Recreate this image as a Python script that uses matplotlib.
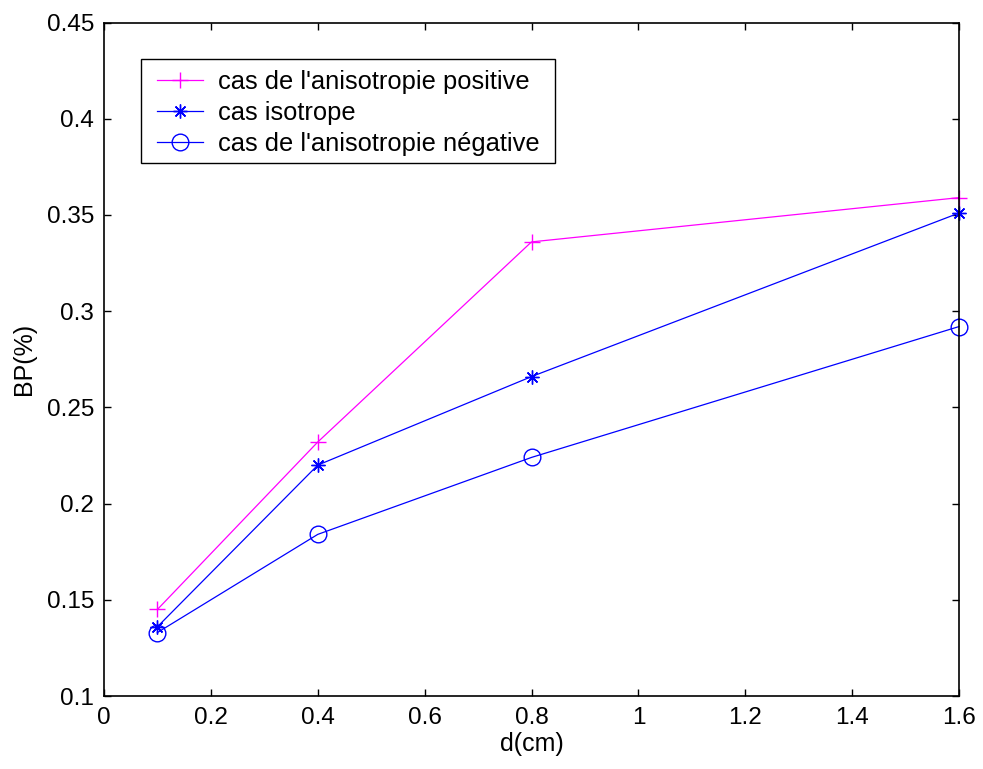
import matplotlib
matplotlib.use("Agg")
import matplotlib.pyplot as plt
from matplotlib.patches import Rectangle

d_cm = [0.1, 0.4, 0.8, 1.6]
bp_positive = [0.145, 0.232, 0.336, 0.359]
bp_isotrope = [0.136, 0.220, 0.266, 0.351]
bp_negative = [0.133, 0.184, 0.224, 0.292]
labels = ["cas de l'anisotropie positive", "cas isotrope", "cas de l'anisotropie négative"]
xticks = [0, 0.2, 0.4, 0.6, 0.8, 1, 1.2, 1.4, 1.6]
yticks = [0.1, 0.15, 0.2, 0.25, 0.3, 0.35, 0.4, 0.45]

plt.rcParams['font.family'] = ['Liberation Sans', 'DejaVu Sans']
fig = plt.figure(figsize=(9.83, 7.69), dpi=100)
ax = fig.add_axes([0.1058, 0.0949, 0.8698, 0.8758])

ax.plot(d_cm, bp_positive, color='#FF00FF', marker='+', markersize=12, markeredgewidth=1,
        linewidth=0.9, label=labels[0], clip_on=False)
ax.plot(d_cm, bp_isotrope, color='#0000FF', marker=(8, 2, 0), markersize=10, markeredgewidth=1,
        linewidth=0.9, label=labels[1], clip_on=False)
ax.plot(d_cm, bp_negative, color='#0000FF', marker='o', markersize=12, markerfacecolor='none',
        markeredgewidth=1, linewidth=0.9, label=labels[2], clip_on=False)

ax.set_xlim(0, 1.6)
ax.set_ylim(0.1, 0.45)
ax.set_xticks(xticks)
ax.set_xticklabels([("%g" % v) for v in xticks])
ax.set_yticks(yticks)
ax.set_yticklabels([("%g" % v) for v in yticks])
ax.tick_params(direction='in', top=True, right=True, labelsize=17.5, length=5, width=1)
ax.tick_params(axis='x', pad=8)
ax.tick_params(axis='y', pad=7)
for s in ax.spines.values():
    s.set_linewidth(1.2)
ax.set_xlabel('d(cm)', fontsize=18, labelpad=2)
ax.set_ylabel('BP(%)', fontsize=18, labelpad=8)

# legend frame (MATLAB-style box with wider right margin)
ax.add_patch(Rectangle((0.0433, 0.7914), 0.4842, 0.1544, transform=ax.transAxes,
                       facecolor='white', edgecolor='black', linewidth=1, zorder=4))
leg = ax.legend(loc='upper left', bbox_to_anchor=(0.062, 0.9296), borderaxespad=0,
                fontsize=18.4, frameon=False, handlelength=1.8, handletextpad=0.6,
                borderpad=0, labelspacing=0.28)
leg.set_zorder(5)

fig.savefig('out.png', dpi=100)
